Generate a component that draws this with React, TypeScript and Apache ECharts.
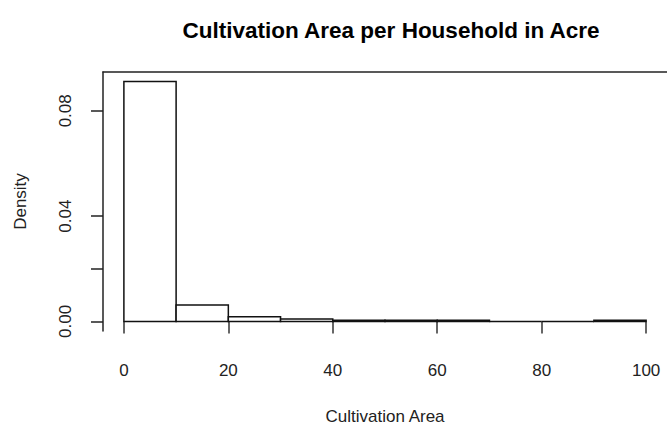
import React, { useEffect, useRef } from "react";
import * as echarts from "echarts";

const binStarts = [0, 10, 20, 30, 40, 50, 60, 70, 80, 90];
const binEnds = [10, 20, 30, 40, 50, 60, 70, 80, 90, 100];
const densities = [0.0911, 0.0062, 0.00174, 0.00089, 0.0004, 0.0004, 0.0004, 0.0, 0.0, 0.0004];
const xTicks = [0, 20, 40, 60, 80, 100];
const yTicks = [0, 0.02, 0.04, 0.08];
const yLabels = [0, 0.04, 0.08];

const FONT = "Liberation Sans, Arial, sans-serif";

export default function App() {
  const ref = useRef<HTMLDivElement>(null);
  useEffect(() => {
    if (!ref.current) return;
    const chart = echarts.init(ref.current, undefined, { renderer: "svg" });
    const data = binStarts.map((s, i) => [s, binEnds[i], densities[i]]);
    chart.setOption({
      animation: false,
      backgroundColor: "#fff",
      title: {
        text: "Cultivation Area per Household in Acre",
        left: 386,
        top: 14,
        textAlign: "center",
        textStyle: { fontFamily: FONT, fontSize: 22.5, fontWeight: "bold", color: "#000" },
      },
      grid: { left: 103, top: 72, width: 569, height: 264.5 },
      xAxis: [
        {
          type: "value",
          min: -4,
          max: 104,
          position: "bottom",
          name: "Cultivation Area",
          nameLocation: "middle",
          nameGap: 77,
          nameTextStyle: { fontFamily: FONT, fontSize: 17, color: "#222" },
          axisLine: { show: false },
          axisTick: { show: true, length: 12, customValues: xTicks, lineStyle: { color: "#333", width: 1.5 } },
          axisLabel: {
            customValues: xTicks,
            margin: 31,
            fontFamily: FONT,
            fontSize: 17,
            color: "#222",
          },
          splitLine: { show: false },
        },
        {
          type: "value",
          min: -4,
          max: 104,
          position: "top",
          axisLine: { show: true, onZero: false, lineStyle: { color: "#222", width: 1.5 } },
          axisTick: { show: false },
          axisLabel: { show: false },
          splitLine: { show: false },
        },
      ],
      yAxis: {
        type: "value",
        min: -0.00364,
        max: 0.09474,
        name: "Density",
        nameLocation: "middle",
        nameGap: 74,
        nameTextStyle: { fontFamily: FONT, fontSize: 17, color: "#222" },
        axisLine: { show: true, onZero: false, lineStyle: { color: "#222", width: 1.5 } },
        axisTick: { show: true, length: 12, customValues: yTicks, lineStyle: { color: "#222", width: 1.5 } },
        axisLabel: {
          customValues: yLabels,
          rotate: 90,
          margin: 29,
          fontFamily: FONT,
          fontSize: 17,
          color: "#222",
          formatter: (v: number) => v.toFixed(2),
        },
        splitLine: { show: false },
      },
      series: [
        {
          type: "custom",
          xAxisIndex: 0,
          yAxisIndex: 0,
          encode: { x: [0, 1], y: 2 },
          renderItem: (params: any, api: any) => {
            const p0 = api.coord([api.value(0), api.value(2)]);
            const p1 = api.coord([api.value(1), 0]);
            return {
              type: "rect",
              shape: { x: p0[0], y: p0[1], width: p1[0] - p0[0], height: p1[1] - p0[1] },
              style: { fill: "#fff", stroke: "#111", lineWidth: 1.5 },
            };
          },
          data,
        },
      ],
    });
    return () => chart.dispose();
  }, []);
  return (
    <div
      ref={ref}
      style={{ position: "fixed", left: 0, top: 0, width: 667, height: 430, background: "#fff" }}
    />
  );
}
